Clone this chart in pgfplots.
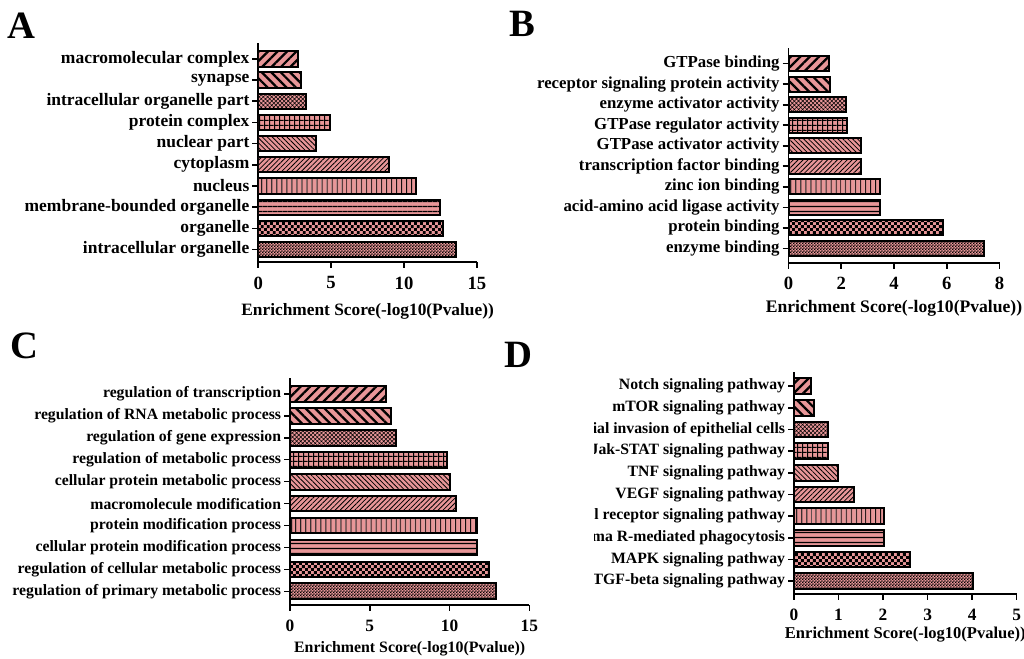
\documentclass[border=0pt]{standalone}
\usepackage{fontspec}
\setmainfont{Liberation Serif}
\usepackage{pgfplots}
\pgfplotsset{compat=1.18}
\usetikzlibrary{patterns,patterns.meta}

\definecolor{pk}{RGB}{232,150,152}

% small checker patterns for the two bottom bars
\pgfdeclarepatternformonly{checkfine}{\pgfqpoint{0pt}{0pt}}{\pgfqpoint{2.4pt}{2.4pt}}{\pgfqpoint{2.4pt}{2.4pt}}{%
  \pgfpathrectangle{\pgfqpoint{0pt}{0pt}}{\pgfqpoint{1.2pt}{1.2pt}}%
  \pgfpathrectangle{\pgfqpoint{1.2pt}{1.2pt}}{\pgfqpoint{1.2pt}{1.2pt}}%
  \pgfusepath{fill}}
\pgfdeclarepatternformonly{checkbig}{\pgfqpoint{0pt}{0pt}}{\pgfqpoint{4.4pt}{4.4pt}}{\pgfqpoint{4.4pt}{4.4pt}}{%
  \pgfpathrectangle{\pgfqpoint{0pt}{0pt}}{\pgfqpoint{2.2pt}{2.2pt}}%
  \pgfpathrectangle{\pgfqpoint{2.2pt}{2.2pt}}{\pgfqpoint{2.2pt}{2.2pt}}%
  \pgfusepath{fill}}
% square grid
\pgfdeclarepatternformonly{sqgrid}{\pgfqpoint{0pt}{0pt}}{\pgfqpoint{3.6pt}{3.6pt}}{\pgfqpoint{3.6pt}{3.6pt}}{%
  \pgfpathrectangle{\pgfqpoint{0pt}{0pt}}{\pgfqpoint{3.6pt}{0.8pt}}%
  \pgfpathrectangle{\pgfqpoint{0pt}{0pt}}{\pgfqpoint{0.8pt}{3.6pt}}%
  \pgfusepath{fill}}

\tikzset{
  bb/.style={draw=black, line width=1.5pt, preaction={fill=pk}},
  p0/.style={bb, pattern=checkfine},
  p1/.style={bb, pattern=checkbig},
  p2/.style={bb, pattern={Lines[angle=0,distance=4pt,line width=1pt]}},
  p3/.style={bb, pattern={Lines[angle=90,distance=4pt,line width=1pt]}},
  p4/.style={bb, pattern={Lines[angle=45,distance=2.6pt,line width=0.6pt]}},
  p5/.style={bb, pattern={Lines[angle=-45,distance=2.6pt,line width=0.6pt]}},
  p6/.style={bb, pattern=sqgrid},
  p7/.style={bb, pattern={Hatch[angle=45,distance=2.2pt,line width=0.4pt]}},
  p8/.style={bb, pattern={Lines[angle=-45,distance=5pt,line width=1.7pt]}},
  p9/.style={bb, pattern={Lines[angle=45,distance=5pt,line width=1.7pt]}},
}

\newcommand\hb[2]{\addplot[p#2] coordinates {(#1,#2)};}

% #1 category labels size, #2 tick numbers size, #3 axis title size
\pgfplotsset{
  enr/.style n args={3}{
    xbar, bar shift=0pt, bar width=0.72,
    scale only axis, anchor=south west,
    axis lines*=left,
    axis line style={line width=1.2pt,-},
    every tick/.style={line width=1.2pt,black},
    tick align=outside, major tick length=4.5pt,
    xmin=0, ytick={0,...,9},
    /pgf/number format/assume math mode=true,
    yticklabel style={font=\bfseries\fontsize{#1}{#1}\selectfont, inner sep=2pt},
    xticklabel style={font=\bfseries\fontsize{#2}{#2}\selectfont, yshift=-3pt},
    xlabel={Enrichment Score(-log10(Pvalue))},
    xlabel style={font=\bfseries\fontsize{#3}{#3}\selectfont, at={(axis description cs:0.5,0)}, anchor=center},
  },
}

\begin{document}
\begin{tikzpicture}
\useasboundingbox (0,0) rectangle (768pt,494.25pt);

% panel letters
\node[font=\bfseries\fontsize{29}{29}\selectfont] at (16.3pt,475pt) {A};
\node[font=\bfseries\fontsize{29}{29}\selectfont] at (392pt,476pt) {B};
\node[font=\bfseries\fontsize{29}{29}\selectfont] at (18pt,235pt) {C};
\node[font=\bfseries\fontsize{29}{29}\selectfont] at (388.5pt,228pt) {D};

% A
\begin{axis}[enr={13.1}{14}{13}, at={(193.7pt,297.75pt)}, width=164pt, height=164.25pt,
  xmax=15, xtick={0,5,10,15}, ymin=-0.59, ymax=9.75,
  xlabel style={yshift=-36.75pt},
  yticklabels={intracellular organelle,organelle,membrane-bounded organelle,nucleus,cytoplasm,nuclear part,protein complex,intracellular organelle part,synapse,macromolecular complex}]
\hb{13.55}{0}
\hb{12.65}{1}
\hb{12.45}{2}
\hb{10.8}{3}
\hb{8.95}{4}
\hb{3.95}{5}
\hb{4.95}{6}
\hb{3.25}{7}
\hb{2.95}{8}
\hb{2.75}{9}
\end{axis}

% B
\begin{axis}[enr={12.6}{14}{13.2}, at={(591.4pt,297.2pt)}, width=158.25pt, height=161pt,
  xmax=8, xtick={0,2,4,6,8}, ymin=-0.70, ymax=9.76,
  xlabel style={yshift=-34pt},
  yticklabels={enzyme binding,protein binding,acid-amino acid ligase activity,zinc ion binding,transcription factor binding,GTPase activator activity,GTPase regulator activity,enzyme activator activity,receptor signaling protein activity,GTPase binding}]
\hb{7.42}{0}
\hb{5.86}{1}
\hb{3.46}{2}
\hb{3.48}{3}
\hb{2.75}{4}
\hb{2.73}{5}
\hb{2.21}{6}
\hb{2.17}{7}
\hb{1.58}{8}
\hb{1.54}{9}
\end{axis}

% C
\begin{axis}[enr={11.8}{13}{11.9}, at={(217.5pt,40.5pt)}, width=179.5pt, height=170.25pt,
  xmax=15, xtick={0,5,10,15}, ymin=-0.62, ymax=9.72,
  xlabel style={yshift=-33pt},
  yticklabels={regulation of primary metabolic process,regulation of cellular metabolic process,cellular protein modification process,protein modification process,macromolecule modification,cellular protein metabolic process,regulation of metabolic process,regulation of gene expression,regulation of RNA metabolic process,regulation of transcription}]
\hb{12.9}{0}
\hb{12.5}{1}
\hb{11.75}{2}
\hb{11.75}{3}
\hb{10.4}{4}
\hb{10.05}{5}
\hb{9.85}{6}
\hb{6.65}{7}
\hb{6.3}{8}
\hb{6.0}{9}
\end{axis}

% D, its labels cut off on the left as in the figure
\begin{scope}
\clip (445.5pt,0pt) rectangle (768pt,260pt);
\begin{axis}[enr={11.8}{13}{12.4}, at={(595.5pt,48.75pt)}, width=167pt, height=166.5pt,
  xmax=5, xtick={0,1,2,3,4,5}, ymin=-0.59, ymax=9.65,
  xlabel style={yshift=-30.75pt},
  yticklabels={TGF-beta signaling pathway,MAPK signaling pathway,Fc gamma R-mediated phagocytosis,T cell receptor signaling pathway,VEGF signaling pathway,TNF signaling pathway,Jak-STAT signaling pathway,Bacterial invasion of epithelial cells,mTOR signaling pathway,Notch signaling pathway}]
\hb{4.02}{0}
\hb{2.61}{1}
\hb{2.02}{2}
\hb{2.03}{3}
\hb{1.34}{4}
\hb{0.99}{5}
\hb{0.77}{6}
\hb{0.77}{7}
\hb{0.45}{8}
\hb{0.38}{9}
\end{axis}
\end{scope}
\end{tikzpicture}
\end{document}
